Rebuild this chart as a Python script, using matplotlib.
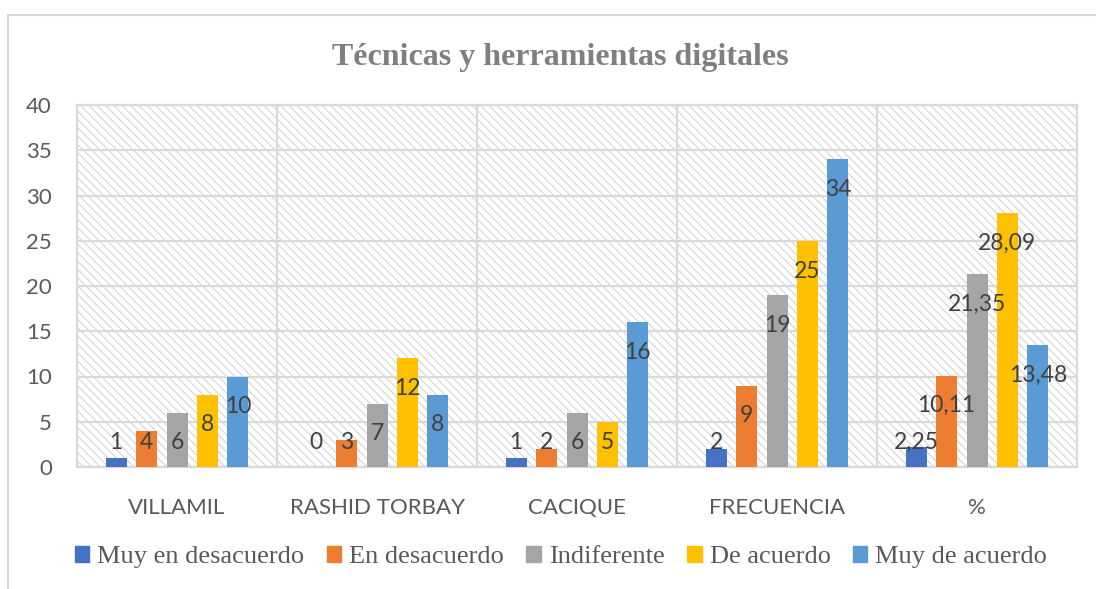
import matplotlib.pyplot as plt
import matplotlib.patches as mpatches
import numpy as np

plt.rcParams['hatch.linewidth'] = 0.8
plt.rcParams['hatch.color'] = '#d4d4d4'

# data
categories = ['VILLAMIL', 'RASHID TORBAY', 'CACIQUE', 'FRECUENCIA', '%']
series_names = ['Muy en desacuerdo', 'En desacuerdo', 'Indiferente', 'De acuerdo', 'Muy de acuerdo']
muy_desacuerdo = [1, 0, 1, 2, 2.25]
desacuerdo = [4, 3, 2, 9, 10.11]
indiferente = [6, 7, 6, 19, 21.35]
de_acuerdo = [8, 12, 5, 25, 28.09]
muy_acuerdo = [10, 8, 16, 34, 13.48]
series = [muy_desacuerdo, desacuerdo, indiferente, de_acuerdo, muy_acuerdo]
colors = ['#4472C4', '#ED7D31', '#A5A5A5', '#FFC000', '#5B9BD5']

def fmt(v):
    if float(v).is_integer():
        return str(int(v))
    return f'{v:.2f}'.replace('.', ',')

fig = plt.figure(figsize=(10.96, 5.89), dpi=100)
ax = fig.add_axes([77 / 1096, 1 - 467 / 589, 1000 / 1096, 362 / 589])

# hatched plot area
ax.patch.set_facecolor('white')
ax.add_patch(mpatches.Rectangle((0, 0), 1, 1, transform=ax.transAxes,
                                facecolor='none', hatch='\\\\\\\\', edgecolor='#d4d4d4',
                                linewidth=0, zorder=0))

x = np.arange(len(categories))
width = 0.105
step = 0.152
for i, (vals, c) in enumerate(zip(series, colors)):
    pos = x + (i - 2) * step
    ax.bar(pos, vals, width=width, color=c, zorder=3, label=series_names[i])
    for p, v in zip(pos, vals):
        ax.text(p, max(v - 3.35, 2.75), fmt(v), ha='center', va='center',
                fontsize=16.5, color='#404040', family='Lato', zorder=4)

ax.set_xlim(-0.5, len(categories) - 0.5)
ax.set_ylim(0, 40)
ax.set_yticks(range(0, 41, 5))
ax.set_xticks(x)
ax.set_xticklabels(categories)
for xb in np.arange(0.5, len(categories) - 0.5, 1):
    ax.axvline(xb, color='#d9d9d9', lw=1.6, zorder=1)
ax.grid(axis='y', color='#d9d9d9', lw=1.6, zorder=1)
ax.set_axisbelow(True)
for s in ax.spines.values():
    s.set_color('#d9d9d9')
    s.set_linewidth(1.6)
ax.tick_params(length=0, labelsize=16, labelcolor='#595959')
ax.tick_params(axis='y', pad=18)
ax.tick_params(axis='x', pad=22)
for t in ax.get_xticklabels() + ax.get_yticklabels():
    t.set_family('Lato')

fig.text(560 / 1096, 1 - 57 / 589, 'Técnicas y herramientas digitales',
         ha='center', va='center', fontsize=23, fontweight='bold',
         family='Liberation Serif', color='#7f7f7f')

# outer chart border
fig.patches.append(mpatches.Rectangle((8 / 1096, -0.1), 1.1, 1.1 - 15 / 589,
                                      transform=fig.transFigure, fill=False,
                                      edgecolor='#d9d9d9', lw=1.5))

handles = [mpatches.Patch(color=c) for c in colors]
fig.legend(handles, series_names, loc='center', bbox_to_anchor=(561 / 1096, 1 - 557 / 589),
           ncol=5, frameon=False, handlelength=0.55, handleheight=0.55, handletextpad=0.3,
           columnspacing=0.85, prop={'family': 'Liberation Serif', 'size': 19},
           labelcolor='#595959')

fig.savefig('out.png', dpi=100)
